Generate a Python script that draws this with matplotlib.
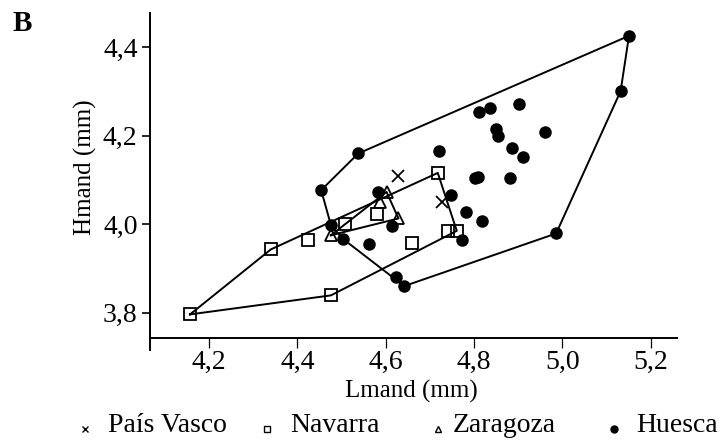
import matplotlib
matplotlib.use("Agg")
import matplotlib.pyplot as plt
from matplotlib.lines import Line2D
from matplotlib.ticker import FuncFormatter

plt.rcParams['font.family'] = ['Liberation Serif', 'DejaVu Serif']

# values (mm)
pais_vasco_x = [4.627, 4.727]
pais_vasco_y = [4.109, 4.050]

navarra_x = [4.157, 4.340, 4.425, 4.476, 4.508, 4.580, 4.659, 4.718, 4.742, 4.761]
navarra_y = [3.796, 3.943, 3.964, 3.839, 4.000, 4.022, 3.958, 4.116, 3.985, 3.985]

zaragoza_x = [4.476, 4.602, 4.629, 4.587]
zaragoza_y = [3.975, 4.073, 4.013, 4.050]

huesca_x = [5.151, 5.132, 4.986, 4.642, 4.623, 4.503, 4.476, 4.454, 4.538,
            4.812, 4.836, 4.903, 4.850, 4.854, 4.961, 4.885, 4.912, 4.721,
            4.582, 4.614, 4.563, 4.748, 4.781, 4.819, 4.772, 4.803, 4.810,
            4.881]
huesca_y = [4.426, 4.301, 3.979, 3.860, 3.881, 3.967, 3.998, 4.077, 4.160,
            4.254, 4.263, 4.272, 4.215, 4.200, 4.209, 4.172, 4.152, 4.166,
            4.072, 3.996, 3.956, 4.067, 4.027, 4.007, 3.965, 4.104, 4.107,
            4.104]

x_ticks = [4.2, 4.4, 4.6, 4.8, 5.0, 5.2]
y_ticks = [3.8, 4.0, 4.2, 4.4]


def convex_hull(xs, ys):
    """Closed convex hull (monotone chain) of a point set."""
    pts = sorted(set(zip(xs, ys)))

    def cross(o, a, b):
        return (a[0] - o[0]) * (b[1] - o[1]) - (a[1] - o[1]) * (b[0] - o[0])

    lower, upper = [], []
    for p in pts:
        while len(lower) >= 2 and cross(lower[-2], lower[-1], p) <= 0:
            lower.pop()
        lower.append(p)
    for p in reversed(pts):
        while len(upper) >= 2 and cross(upper[-2], upper[-1], p) <= 0:
            upper.pop()
        upper.append(p)
    ring = lower[:-1] + upper[:-1]
    ring.append(ring[0])
    return [p[0] for p in ring], [p[1] for p in ring]


fig = plt.figure(figsize=(7.24, 4.48), dpi=100)
ax = fig.add_axes([150 / 724, 1 - 350 / 448, 526.7 / 724, 337 / 448])

for xs, ys in [(huesca_x, huesca_y), (navarra_x, navarra_y),
               (zaragoza_x, zaragoza_y)]:
    hx, hy = convex_hull(xs, ys)
    ax.plot(hx, hy, color='black', lw=1.4, zorder=2)

ax.plot(huesca_x, huesca_y, 'o', color='black', ms=8, zorder=3)
ax.plot(navarra_x, navarra_y, 's', mfc='none', mec='black', ms=8, mew=1.3,
        zorder=3)
ax.plot(zaragoza_x, zaragoza_y, '^', mfc='none', mec='black', ms=9, mew=1.3,
        zorder=3)
ax.plot(pais_vasco_x, pais_vasco_y, 'x', color='black', ms=8, mew=1.3,
        zorder=3)

ax.set_xlim(4.0664, 5.259)
ax.set_ylim(3.7155, 4.4776)
ax.spines['top'].set_visible(False)
ax.spines['right'].set_visible(False)
ax.spines['left'].set_linewidth(1.4)
ax.spines['bottom'].set_linewidth(1.4)
ax.spines['bottom'].set_position(('data', 3.7433))

comma = FuncFormatter(lambda v, _: f"{v:.1f}".replace('.', ','))
ax.set_xticks(x_ticks)
ax.set_yticks(y_ticks)
ax.xaxis.set_major_formatter(comma)
ax.yaxis.set_major_formatter(comma)
ax.tick_params(axis='x', length=7, width=0.9, pad=2, labelsize=20)
ax.tick_params(axis='y', length=6, width=1.2, pad=3, labelsize=20)

ax.set_xlabel('Lmand (mm)', fontsize=18)
ax.xaxis.set_label_coords(0.4955, -0.088)
ax.set_ylabel('Hmand (mm)', fontsize=18)
ax.yaxis.set_label_coords(-0.123, 0.543)
ax.yaxis.label.set_va('center')

fig.text(13 / 724, 1 - 10 / 448, 'B', fontsize=21, fontweight='bold',
         ha='left', va='top')

# legend drawn by hand along the bottom
legend_items = [('x', 'none', 'País Vasco', 85, 108),
                ('s', 'none', 'Navarra', 266.7, 290),
                ('^', 'none', 'Zaragoza', 437.7, 453),
                ('o', 'black', 'Huesca', 614, 636.7)]
for marker, face, label, mx, tx in legend_items:
    fig.add_artist(Line2D([mx / 724], [1 - 428.5 / 448], marker=marker,
                          ms=5, mfc=face, mec='black', mew=1.0,
                          color='black', transform=fig.transFigure))
    fig.text(tx / 724, 1 - 432 / 448, label, fontsize=20, ha='left',
             va='baseline')

fig.savefig('out.png', dpi=100)
